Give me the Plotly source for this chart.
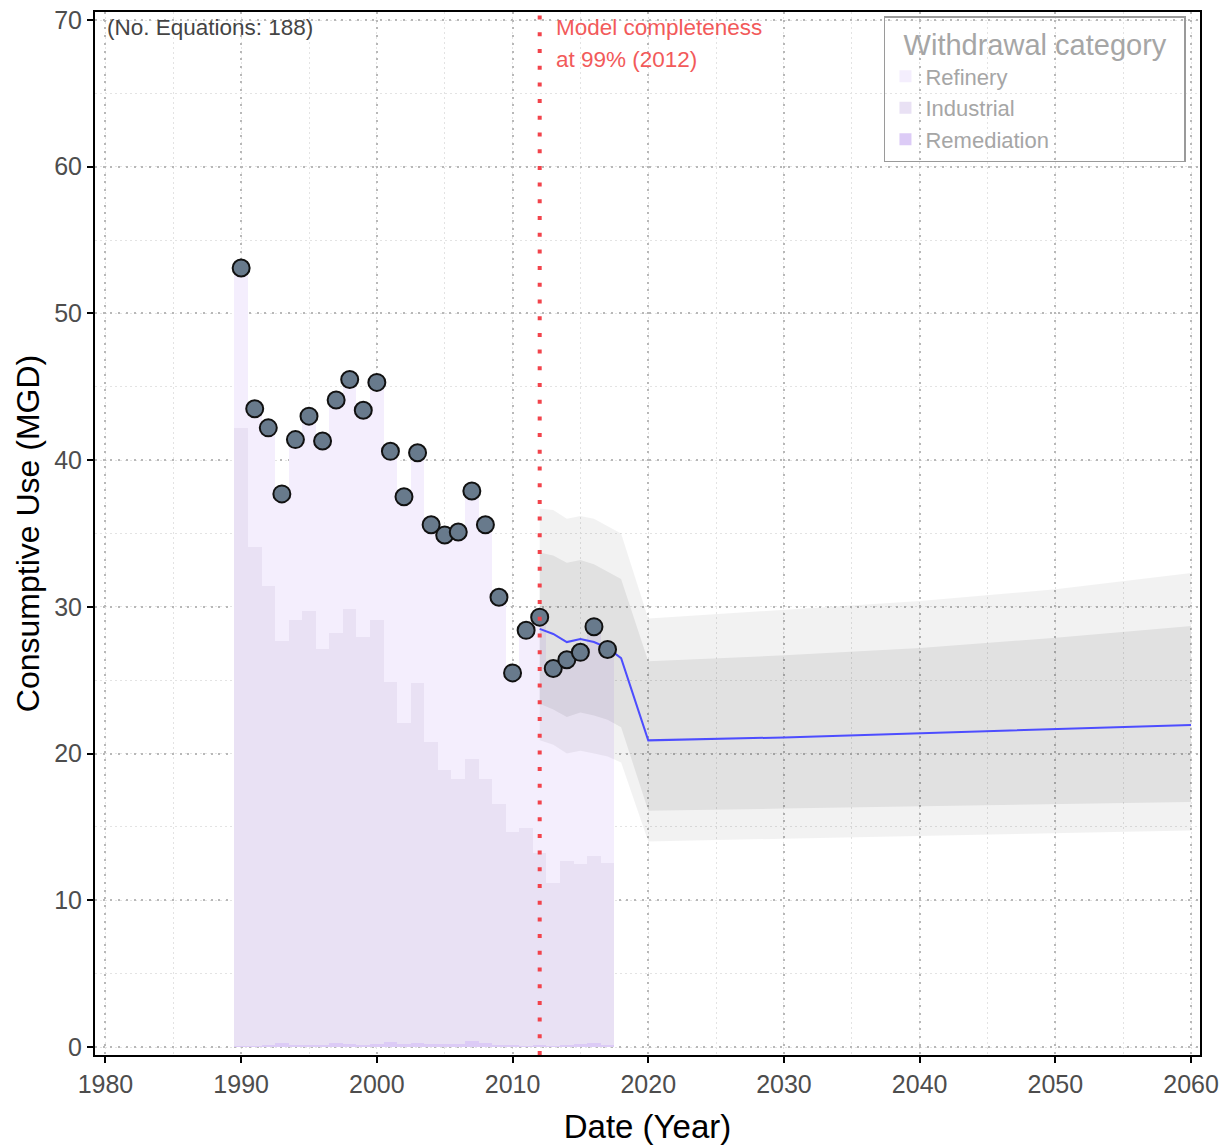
import plotly.graph_objects as go

# ---------------- data ----------------
years = list(range(1990, 2018))
total_use = [53.1, 43.5, 42.2, 37.7, 41.4, 43.0, 41.3, 44.1, 45.5, 43.4,
             45.3, 40.6, 37.5, 40.5, 35.6, 34.9, 35.1, 37.9, 35.6, 30.65,
             25.5, 28.4, 29.3, 25.8, 26.4, 26.9, 28.65, 27.1]
refinery = [10.9, 9.4, 10.8, 10.0, 12.3, 13.3, 14.1, 15.9, 15.6, 15.5,
            16.2, 15.8, 15.4, 15.7, 14.8, 16.0, 16.8, 18.3, 17.3, 14.1,
            10.9, 13.5, 16.1, 14.6, 13.8, 14.4, 15.6, 14.6]
industrial = [42.1, 34.0, 31.3, 27.4, 29.0, 29.6, 27.0, 27.9, 29.7, 27.8,
              28.9, 24.5, 21.9, 24.5, 20.6, 18.7, 18.1, 19.2, 18.0, 16.4,
              14.5, 14.8, 13.1, 11.1, 12.5, 12.3, 12.8, 12.4]
remediation = [0.1, 0.1, 0.12, 0.3, 0.12, 0.14, 0.15, 0.3, 0.18, 0.15,
               0.2, 0.35, 0.2, 0.3, 0.2, 0.18, 0.18, 0.4, 0.3, 0.15,
               0.15, 0.1, 0.12, 0.1, 0.15, 0.18, 0.25, 0.15]

fc_years = [2012, 2013, 2014, 2015, 2016, 2017, 2018, 2020, 2030, 2040, 2050, 2060]
fc_mean = [28.5, 28.15, 27.6, 27.8, 27.6, 27.2, 26.5, 20.9, 21.1, 21.4, 21.65, 21.95]
fc_inner_hi = [33.7, 33.5, 33.0, 33.2, 32.9, 32.4, 31.9, 26.3, 26.7, 27.2, 27.9, 28.7]
fc_inner_lo = [23.4, 23.0, 22.5, 22.8, 22.6, 22.3, 21.8, 16.1, 16.25, 16.4, 16.55, 16.7]
fc_outer_hi = [36.7, 36.6, 36.0, 36.2, 36.0, 35.5, 35.0, 29.2, 29.8, 30.4, 31.2, 32.3]
fc_outer_lo = [20.9, 20.6, 20.0, 20.2, 20.0, 19.8, 19.4, 14.0, 14.2, 14.4, 14.55, 14.75]

x_ticks = [1980, 1990, 2000, 2010, 2020, 2030, 2040, 2050, 2060]
y_ticks = [0, 10, 20, 30, 40, 50, 60, 70]
completeness_year = 2012

# ---------------- figure ----------------
FONT = "Liberation Sans, Arial, sans-serif"
fig = go.Figure()

fig.add_trace(go.Bar(x=years, y=remediation, name="Remediation", width=1,
                     marker=dict(color="#dccbf6", line=dict(width=0))))
fig.add_trace(go.Bar(x=years, y=industrial, name="Industrial", width=1,
                     marker=dict(color="#e9e1f4", line=dict(width=0))))
fig.add_trace(go.Bar(x=years, y=refinery, name="Refinery", width=1,
                     marker=dict(color="#f4eefd", line=dict(width=0))))

# forecast bands
fig.add_trace(go.Scatter(x=fc_years, y=fc_outer_lo, mode="lines", line=dict(width=0),
                         showlegend=False, hoverinfo="skip"))
fig.add_trace(go.Scatter(x=fc_years, y=fc_outer_hi, mode="lines", line=dict(width=0),
                         fill="tonexty", fillcolor="rgba(0,0,0,0.05)",
                         showlegend=False, hoverinfo="skip"))
fig.add_trace(go.Scatter(x=fc_years, y=fc_inner_lo, mode="lines", line=dict(width=0),
                         showlegend=False, hoverinfo="skip"))
fig.add_trace(go.Scatter(x=fc_years, y=fc_inner_hi, mode="lines", line=dict(width=0),
                         fill="tonexty", fillcolor="rgba(0,0,0,0.065)",
                         showlegend=False, hoverinfo="skip"))
fig.add_trace(go.Scatter(x=fc_years, y=fc_mean, mode="lines",
                         line=dict(color="#4d4dff", width=2), showlegend=False))

# observed totals
fig.add_trace(go.Scatter(x=years, y=total_use, mode="markers", showlegend=False,
                         marker=dict(size=17, color="#687a8c",
                                     line=dict(color="#111111", width=2))))

fig.add_shape(type="line", x0=completeness_year, x1=completeness_year, xref="x",
              y0=0, y1=1, yref="paper",
              line=dict(color="#f2434b", width=4, dash="4px,12.7px"), layer="above")

fig.add_annotation(text="(No. Equations: 188)", xref="paper", yref="paper",
                   x=0.0095, y=0.999, xanchor="left", yanchor="top", showarrow=False,
                   font=dict(family=FONT, size=22.5, color="#444444"))
fig.add_annotation(text="Model completeness", xref="x", yref="paper",
                   x=2013.05, y=0.999, xanchor="left", yanchor="top", showarrow=False,
                   font=dict(family=FONT, size=22.5, color="#f25a5a"))
fig.add_annotation(text="at 99% (2012)", xref="x", yref="paper",
                   x=2013.05, y=0.968, xanchor="left", yanchor="top", showarrow=False,
                   font=dict(family=FONT, size=22.5, color="#f25a5a"))

axis_common = dict(
    showline=True, linecolor="black", linewidth=2, mirror=True,
    ticks="outside", ticklen=6, tickwidth=2, tickcolor="black",
    tickfont=dict(family=FONT, size=25, color="#4d4d4d"),
    showgrid=True, gridcolor="#b8b8b8", gridwidth=1.5, griddash="2px,5.7px",
    zeroline=False, automargin=False,
    minor=dict(showgrid=True, gridcolor="#e3e3e3", gridwidth=1, griddash="2px,3px", ticks=""),
)

fig.update_layout(
    width=1225, height=1145,
    margin=dict(l=95, r=25, t=12, b=90),
    paper_bgcolor="white", plot_bgcolor="white",
    barmode="stack", bargap=0,
    font=dict(family=FONT),
    xaxis=dict(range=[1979.23, 2060.66], tickvals=x_ticks,
               ticktext=[str(t) for t in x_ticks],
               title=dict(text="Date (Year)", font=dict(family=FONT, size=33, color="black"),
                          standoff=22),
               **{**axis_common, "minor": dict(axis_common["minor"], dtick=5, tick0=1975)}),
    yaxis=dict(range=[-0.545, 70.545], tickvals=y_ticks,
               ticktext=[str(t) for t in y_ticks],
               title=dict(text="Consumptive Use (MGD)", font=dict(family=FONT, size=32, color="black"),
                          standoff=5),
               **{**axis_common, "minor": dict(axis_common["minor"], dtick=5, tick0=5)}),
    legend=dict(x=0.9873, xanchor="right", y=0.996, yanchor="top",
                bgcolor="rgba(255,255,255,0)", bordercolor="#9a9a9a", borderwidth=1.5,
                font=dict(family=FONT, size=22, color="#a6a6a6"),
                title=dict(text="&nbsp;&nbsp;Withdrawal category&nbsp;&nbsp;",
                           font=dict(family=FONT, size=29, color="#a6a6a6")),
                traceorder="reversed", tracegroupgap=0),
)

fig.write_html("out.html")
